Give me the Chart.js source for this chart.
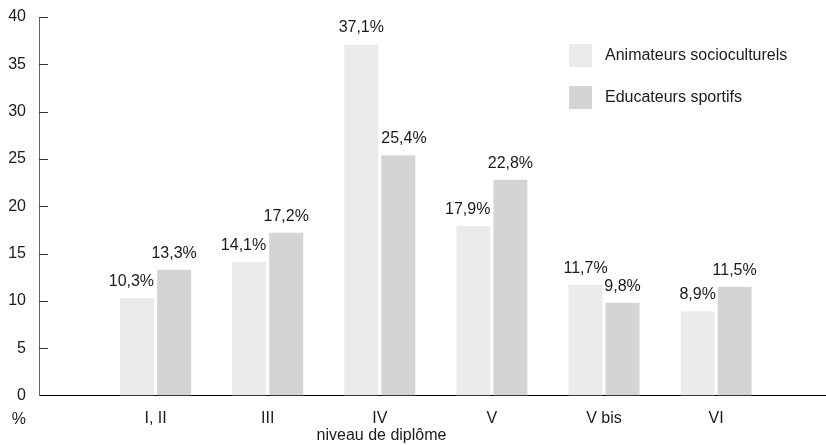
<!DOCTYPE html>
<html>
<head>
<meta charset="utf-8">
<script src="https://cdn.jsdelivr.net/npm/chart.js@4/dist/chart.umd.min.js"></script>
<style>
  html, body { margin: 0; padding: 0; background: #ffffff; }
  #wrap { width: 826px; height: 445px; }
</style>
</head>
<body>
<div id="wrap"><canvas id="chart" width="826" height="445"></canvas></div>
<script>
// Niveau de diplôme des animateurs socioculturels et des éducateurs sportifs (%)
const categories = ['I, II', 'III', 'IV', 'V', 'V bis', 'VI'];
const animateurs = [10.3, 14.1, 37.1, 17.9, 11.7, 8.9];
const educateurs = [13.3, 17.2, 25.4, 22.8, 9.8, 11.5];
const seriesNames = ['Animateurs socioculturels', 'Educateurs sportifs'];
const yTickValues = [5, 10, 15, 20, 25, 30, 35, 40];

const FONT = '"Liberation Sans", Arial, sans-serif';
const TEXT = '#1a1a1a';
const COLORS = ['#ebebeb', '#d4d4d4'];

const toPoints = arr => arr.map((v, i) => ({ x: i + 1, y: v }));
const fmt = v => v.toFixed(1).replace('.', ',') + '%';

// Value labels above the bars, nudged so they never run over the taller neighbour bar
const valueLabels = {
  id: 'valueLabels',
  afterDatasetsDraw(chart) {
    const ctx = chart.ctx;
    ctx.save();
    ctx.font = '16px ' + FONT;
    ctx.fillStyle = TEXT;
    ctx.textAlign = 'center';
    ctx.textBaseline = 'alphabetic';
    chart.data.datasets.forEach((ds, i) => {
      const meta = chart.getDatasetMeta(i);
      const otherMeta = chart.getDatasetMeta(1 - i);
      meta.data.forEach((bar, j) => {
        const v = ds.data[j].y;
        const other = chart.data.datasets[1 - i].data[j].y;
        const text = fmt(v);
        const w = ctx.measureText(text).width;
        const half = bar.width / 2;
        let x = bar.x;
        if (other > v) {
          const ob = otherMeta.data[j];
          if (i === 0 && x + w / 2 > ob.x - ob.width / 2) {
            x = bar.x + half - w / 2;
          } else if (i === 1 && x - w / 2 < ob.x + ob.width / 2) {
            x = bar.x - half + w / 2;
          }
        }
        ctx.fillText(text, x, bar.y - 12);
      });
    });
    ctx.restore();
  }
};

// Inward tick marks on the value axis, legend, axis unit and axis title
const decorations = {
  id: 'decorations',
  afterDraw(chart) {
    const ctx = chart.ctx;
    const y = chart.scales.y;
    const area = chart.chartArea;
    ctx.save();
    ctx.strokeStyle = '#333333';
    ctx.lineWidth = 1;
    yTickValues.forEach(v => {
      const py = Math.round(y.getPixelForValue(v)) + 0.5;
      ctx.beginPath();
      ctx.moveTo(area.left, py);
      ctx.lineTo(area.left + 9, py);
      ctx.stroke();
    });

    ctx.font = '16px ' + FONT;
    ctx.fillStyle = TEXT;
    ctx.textBaseline = 'alphabetic';
    ctx.textAlign = 'right';
    ctx.fillText('%', 26, 424);

    ctx.textAlign = 'center';
    ctx.fillText('niveau de diplôme', 381.5, 440);

    // legend
    ctx.textAlign = 'left';
    ctx.textBaseline = 'middle';
    chart.data.datasets.forEach((ds, i) => {
      const top = 44 + i * 42;
      ctx.fillStyle = ds.backgroundColor;
      ctx.fillRect(569, top, 23, 23);
      ctx.fillStyle = TEXT;
      ctx.fillText(ds.label, 605, top + 12);
    });
    ctx.restore();
  }
};

new Chart(document.getElementById('chart'), {
  type: 'bar',
  data: {
    datasets: [
      { label: seriesNames[0], data: toPoints(animateurs), backgroundColor: COLORS[0] },
      { label: seriesNames[1], data: toPoints(educateurs), backgroundColor: COLORS[1] }
    ]
  },
  options: {
    responsive: false,
    animation: false,
    events: [],
    categoryPercentage: 0.66,
    barPercentage: 0.919,
    layout: { padding: { top: 17, right: 0, left: 0, bottom: 0 } },
    plugins: { legend: { display: false }, tooltip: { enabled: false } },
    scales: {
      x: {
        type: 'linear',
        offset: false,
        min: -0.04,
        max: 6.98,
        grid: { display: false, drawTicks: false, offset: false },
        border: { display: true, color: '#000000', width: 1 },
        afterBuildTicks: scale => {
          scale.ticks = categories.map((_, i) => ({ value: i + 1 }));
        },
        afterFit: scale => {
          scale.height = 49.5;
          scale.paddingLeft = 0;
          scale.paddingRight = 0;
        },
        ticks: {
          autoSkip: false,
          maxRotation: 0,
          padding: 13,
          color: TEXT,
          font: { family: FONT, size: 16 },
          callback: v => categories[v - 1] || ''
        }
      },
      y: {
        min: 0,
        max: 40,
        grid: { display: false, drawTicks: false },
        border: { display: true, color: '#666666', width: 1 },
        afterFit: scale => {
          scale.width = 39;
          scale.paddingTop = 0;
          scale.paddingBottom = 0;
        },
        ticks: {
          stepSize: 5,
          padding: 13,
          labelOffset: 0,
          color: TEXT,
          font: { family: FONT, size: 16 }
        }
      }
    }
  },
  plugins: [valueLabels, decorations]
});
</script>
</body>
</html>
